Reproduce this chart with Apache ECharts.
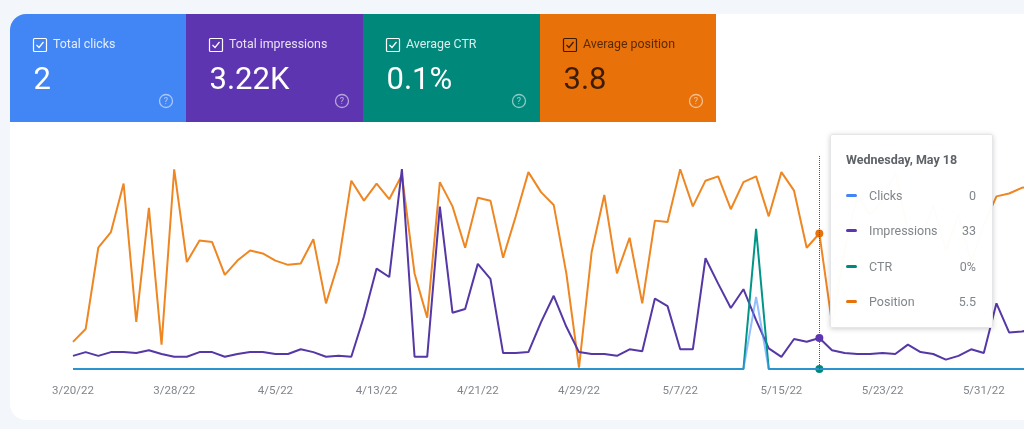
<!DOCTYPE html>
<html>
<head>
<meta charset="utf-8">
<style>
  html, body { margin: 0; padding: 0; background: #f3f7fc; }
  #chart { width: 1024px; height: 429px; }
</style>
<script src="https://cdn.jsdelivr.net/npm/echarts@6/dist/echarts.min.js"></script>
</head>
<body>
<div id="chart"></div>
<script>
var dates = [
  '3/20/22','3/21/22','3/22/22','3/23/22','3/24/22','3/25/22','3/26/22','3/27/22','3/28/22','3/29/22','3/30/22','3/31/22',
  '4/1/22','4/2/22','4/3/22','4/4/22','4/5/22','4/6/22','4/7/22','4/8/22','4/9/22','4/10/22','4/11/22','4/12/22','4/13/22',
  '4/14/22','4/15/22','4/16/22','4/17/22','4/18/22','4/19/22','4/20/22','4/21/22','4/22/22','4/23/22','4/24/22','4/25/22',
  '4/26/22','4/27/22','4/28/22','4/29/22','4/30/22','5/1/22','5/2/22','5/3/22','5/4/22','5/5/22','5/6/22','5/7/22','5/8/22',
  '5/9/22','5/10/22','5/11/22','5/12/22','5/13/22','5/14/22','5/15/22','5/16/22','5/17/22','5/18/22','5/19/22','5/20/22',
  '5/21/22','5/22/22','5/23/22','5/24/22','5/25/22','5/26/22','5/27/22','5/28/22','5/29/22','5/30/22','5/31/22','6/1/22',
  '6/2/22','6/3/22','6/4/22'
];
var clicks = [
  0,0,0,0,0,0,0,0,0,0,0,0,0,0,0,0,0,0,0,0,0,0,0,0,0,0,0,0,0,0,0,0,0,0,0,0,0,0,0,0,0,0,0,0,0,0,0,0,0,0,0,0,0,0,
  2,
  0,0,0,0,0,0,0,0,0,0,0,0,0,0,0,0,0,0,0,0,0,0
];
var impressions = [
  14,18,14,18,18,17,20,16,13,13,18,18,13,16,18,18,16,16,21,18,13,14,13,56,107,
  98,213,13,13,173,60,64,112,96,17,17,18,50,78,45,18,16,16,14,21,19,75,67,21,21,
  118,91,65,85,52,22,13,32,29,33,20,17,16,16,17,16,26,18,16,10,14,21,17,70,39,40,42
];
var ctr = [
  0,0,0,0,0,0,0,0,0,0,0,0,0,0,0,0,0,0,0,0,0,0,0,0,0,0,0,0,0,0,0,0,0,0,0,0,0,0,0,0,0,0,0,0,0,0,0,0,0,0,0,0,0,0,
  3.8,
  0,0,0,0,0,0,0,0,0,0,0,0,0,0,0,0,0,0,0,0,0,0
];
var position = [
  13.1,12.2,6.5,5.4,2.0,11.7,3.7,13.3,1.0,7.5,6.0,6.1,8.4,7.4,6.7,6.9,7.4,7.7,7.6,5.9,10.4,7.5,1.8,3.2,2.0,
  3.1,1.4,8.3,11.4,1.9,3.6,6.5,3.0,3.2,7.2,4.3,1.2,2.6,3.5,8.3,14.9,6.8,2.8,8.3,5.8,10.4,4.6,4.7,1.0,3.6,
  1.8,1.5,3.8,1.9,1.5,4.3,1.2,2.5,6.5,5.5,11.8,6.7,2.8,4.2,3.2,1.2,5.3,6.0,3.5,6.7,4.2,7.5,4.9,2.9,2.7,2.3,2.2
];

var cardLabels = ['Total clicks', 'Total impressions', 'Average CTR', 'Average position'];
var cardValues = ['2', '3.22K', '0.1%', '3.8'];
var cardColors = ['#4285f4', '#5e35b1', '#00897b', '#e8710a'];
var cardText = ['#ffffff', '#ffffff', '#ffffff', '#3d1c00'];
var cardX = [10, 186, 363, 540, 716];

var seriesNames = ['Clicks', 'Impressions', 'CTR', 'Position'];
var seriesColors = ['#4285f4', '#5e35b1', '#00897b', '#e8710a'];
// the lines read a little darker than the cards in the screenshot
var lineColors = ['#4285f4', '#4e3296', '#00897b', '#d97a1f'];
var FOCUS_INDEX = 59;
var FOCUS_TITLE = 'Wednesday, May 18';

// kpi cards plus the white panel behind the chart
function buildGraphic() {
  var items = [{
    type: 'rect', z: -2,
    shape: { x: 10, y: 14, width: 1040, height: 406, r: [16, 0, 0, 16] },
    style: { fill: '#ffffff' }
  }];
  cardLabels.forEach(function (label, i) {
    var x = cardX[i], color = cardText[i];
    items.push({
      type: 'rect', z: -1,
      shape: { x: x, y: 14, width: cardX[i + 1] - x, height: 108, r: i === 0 ? [16, 0, 0, 0] : 0 },
      style: { fill: cardColors[i] }
    });
    items.push({
      type: 'rect', z: 1,
      shape: { x: x + 23.5, y: 38.5, width: 13, height: 13, r: 1 },
      style: { fill: 'transparent', stroke: color, lineWidth: 1.2 }
    });
    items.push({
      type: 'polyline', z: 1,
      shape: { points: [[x + 26.5, 45], [x + 29, 47.5], [x + 33.5, 42]] },
      style: { fill: 'none', stroke: color, lineWidth: 1.2 }
    });
    items.push({
      type: 'text', z: 1, x: x + 43, y: 45,
      style: { text: label, fill: color, opacity: 0.85, font: '12.4px Roboto', textVerticalAlign: 'middle' }
    });
    items.push({
      type: 'text', z: 1, x: x + 23.5, y: 81,
      style: { text: cardValues[i], fill: color, font: '31px Roboto', textVerticalAlign: 'middle' }
    });
    items.push({
      type: 'circle', z: 1,
      shape: { cx: x + 156, cy: 101, r: 6.5 },
      style: { fill: 'transparent', stroke: '#ffffff', opacity: 0.55, lineWidth: 1.3 }
    });
    items.push({
      type: 'text', z: 1, x: x + 156, y: 101.5,
      style: { text: '?', fill: '#ffffff', opacity: 0.6, font: '9px Roboto', textAlign: 'center', textVerticalAlign: 'middle' }
    });
  });
  return items;
}

function tooltipHtml(params) {
  var html = '<div style="font:bold 12.5px Roboto;color:#5f6368;line-height:16px;margin-bottom:10px">' + FOCUS_TITLE + '</div>';
  params.forEach(function (p) {
    var value = p.seriesName === 'CTR' ? p.value + '%' : p.value;
    html += '<div style="display:flex;align-items:center;height:35.3px;font:12.5px Roboto;color:#80868b">' +
      '<span style="width:11px;height:3px;border-radius:2px;margin-right:12px;background:' + seriesColors[p.seriesIndex] + '"></span>' +
      '<span style="flex:1">' + p.seriesName + '</span><span>' + value + '</span></div>';
  });
  return html;
}

function lineSeries(i, data, axis, z, extra) {
  return Object.assign({
    name: seriesNames[i],
    type: 'line',
    data: data,
    yAxisIndex: axis,
    z: z,
    showSymbol: false,
    symbol: 'circle',
    symbolSize: 8,
    smooth: false,
    animation: false,
    itemStyle: { color: seriesColors[i] },
    lineStyle: { color: lineColors[i], width: 2 },
    emphasis: { scale: false, lineStyle: { width: 2 } }
  }, extra || {});
}

function hiddenAxis(min, max, inverse) {
  return { type: 'value', min: min, max: max, inverse: !!inverse, show: false, splitLine: { show: false } };
}

var myChart = echarts.init(document.getElementById('chart'));
myChart.setOption({
  backgroundColor: '#f3f7fc',
  animation: false,
  graphic: buildGraphic(),
  grid: { left: 73, top: 155, width: 961.4, height: 214, outerBoundsMode: 'none' },
  xAxis: {
    type: 'category',
    data: dates,
    boundaryGap: false,
    axisLine: { show: false },
    axisTick: { show: false },
    axisLabel: { interval: 7, margin: 16, fontFamily: 'Roboto', fontSize: 11.5, color: '#80868b', hideOverlap: false }
  },
  yAxis: [hiddenAxis(0, 5.94), hiddenAxis(0, 228), hiddenAxis(0, 5.8), hiddenAxis(0, 15, true)],
  tooltip: {
    trigger: 'axis',
    alwaysShowContent: true,
    transitionDuration: 0,
    position: [830, 134],
    backgroundColor: 'rgba(255,255,255,0.98)',
    borderColor: '#e4e6e8',
    borderWidth: 1,
    padding: [17, 16, 7, 15],
    extraCssText: 'width:130px;height:168px;border-radius:2px;box-shadow:0 1px 5px rgba(60,64,67,.25);',
    axisPointer: { type: 'line', lineStyle: { color: '#555', type: 'dotted', width: 1 } },
    formatter: tooltipHtml
  },
  series: [
    lineSeries(0, clicks, 0, 6, { lineStyle: { color: lineColors[0], width: 2, opacity: 0.6 }, itemStyle: { color: seriesColors[0], opacity: 0 } }),
    lineSeries(1, impressions, 1, 4),
    lineSeries(2, ctr, 2, 5),
    lineSeries(3, position, 3, 3)
  ]
});
myChart.dispatchAction({ type: 'showTip', seriesIndex: 0, dataIndex: FOCUS_INDEX });
</script>
</body>
</html>
